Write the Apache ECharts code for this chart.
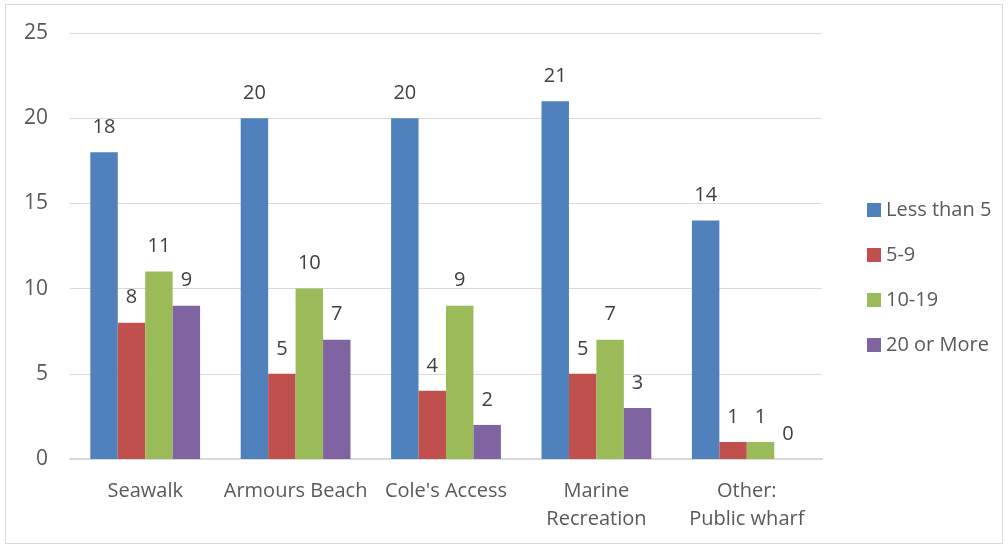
<!DOCTYPE html>
<html><head><meta charset="utf-8">
<script src="https://cdn.jsdelivr.net/npm/echarts@6/dist/echarts.min.js"></script>
<style>html,body{margin:0;padding:0;background:#fff}#wrap{position:absolute;left:5px;top:4px;width:998px;height:540px;border:1px solid #d9d9d9;box-sizing:border-box}#c{position:absolute;left:0;top:0;width:1008px;height:547px}</style>
</head><body><div id="wrap"></div><div id="c"></div>
<script>
const categories = ['Seawalk', 'Armours Beach', "Cole's Access", 'Marine\nRecreation', 'Other:\nPublic wharf'];
const seriesNames = ['Less than 5', '5-9', '10-19', '20 or More'];
const lessThan5 = [18, 20, 20, 21, 14];
const s5to9 = [8, 5, 4, 5, 1];
const s10to19 = [11, 10, 9, 7, 1];
const s20more = [9, 7, 2, 3, 0];
const yTicks = [0, 5, 10, 15, 20, 25];
const colors = ['#4F81BD', '#C0504D', '#9BBB59', '#8064A2'];
const values = [lessThan5, s5to9, s10to19, s20more];
const font = '"Open Sans", "Noto Sans", sans-serif';
const chart = echarts.init(document.getElementById('c'));
chart.setOption({
  animation: false,
  textStyle: {fontFamily: font},
  grid: {left: 70, right: 186, top: 33, bottom: 88},
  legend: {
    orient: 'vertical', left: 862, top: 195, itemWidth: 14, itemHeight: 14, itemGap: 25,
    icon: 'rect',
    textStyle: {fontSize: 20, color: '#595959', fontFamily: font},
    data: seriesNames
  },
  xAxis: {
    type: 'category', data: categories,
    axisLine: {lineStyle: {color: '#d9d9d9', width: 2}},
    axisTick: {show: false},
    axisLabel: {fontSize: 20, color: '#595959', margin: 18, lineHeight: 28, interval: 0}
  },
  yAxis: {
    type: 'value', min: 0, max: 25, interval: 5,
    axisLine: {show: false}, axisTick: {show: false},
    splitLine: {lineStyle: {color: '#d9d9d9', width: 1}},
    axisLabel: {fontSize: 21, color: '#595959', margin: 22,
      formatter: v => yTicks.includes(v) ? String(v) : ''}
  },
  series: seriesNames.map((n, i) => ({
    name: n, type: 'bar', data: values[i], barGap: '0%', barCategoryGap: '27%',
    itemStyle: {color: colors[i]},
    label: {show: true, position: 'top', distance: 15, fontSize: 20, color: '#404040', fontFamily: font}
  }))
});
</script></body></html>
